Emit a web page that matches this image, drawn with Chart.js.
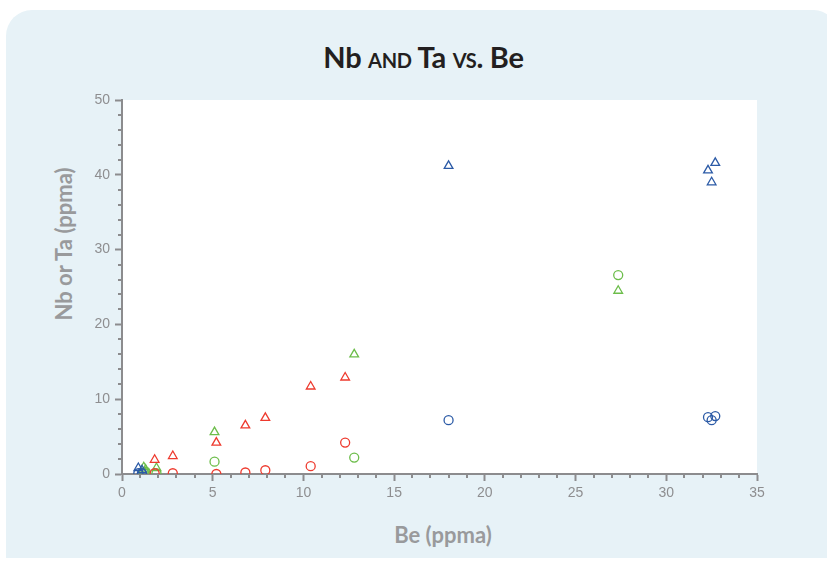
<!DOCTYPE html>
<html>
<head>
<meta charset="utf-8">
<script src="https://cdn.jsdelivr.net/npm/chart.js@4"></script>
<style>
  html, body { margin: 0; padding: 0; background: #fff; }
  #wrap { position: relative; width: 827px; height: 562px; overflow: hidden; }
  #panel {
    position: absolute; left: 6px; top: 10px; width: 830px; height: 548px;
    background: #e7f2f7; border-radius: 26px 22px 0 0;
  }
  #title {
    position: absolute; left: 0; top: 39px; width: 847px; text-align: center;
    font: bold 29px Lato, sans-serif; color: #231f20; letter-spacing: -0.3px;
  }
  #title .sc { font-variant: small-caps; }
  .axis-title { position: absolute; font: bold 22px Lato, sans-serif; color: #999a9c; white-space: nowrap; }
  #xtitle { left: 443px; top: 534px; transform: translate(-50%, -50%); }
  #ytitle { left: 63px; top: 244px; transform: translate(-50%, -50%) rotate(-90deg); }
  canvas { position: absolute; left: 0; top: 0; }
</style>
</head>
<body>
<div id="wrap">
  <div id="panel"></div>
  <div id="title">Nb <span class="sc">and</span> Ta <span class="sc">vs.</span> Be</div>
  <div class="axis-title" id="xtitle">Be (ppma)</div>
  <div class="axis-title" id="ytitle">Nb or Ta (ppma)</div>
  <canvas id="chart" width="827" height="562"></canvas>
</div>
<script>
// Be (ppma) with Nb (triangles) and Ta (circles), per sample group
const blueBe = [0.9, 1.1, 18.0, 32.3, 32.5, 32.7];
const blueNb = [0.8, 0.5, 41.2, 40.6, 39.0, 41.6];
const blueTa = [0.1, 0.1, 7.2, 7.6, 7.2, 7.75];

const redBe = [1.8, 2.8, 5.2, 6.8, 7.9, 10.4, 12.3];
const redNb = [1.9, 2.4, 4.2, 6.5, 7.5, 11.7, 12.9];
const redTa = [0.1, 0.1, 0.0, 0.2, 0.5, 1.05, 4.2];

const greenBe = [1.2, 1.3, 1.9, 5.1, 12.8, 27.35];
const greenNb = [0.9, 0.6, 0.8, 5.6, 16.0, 24.5];
const greenTa = [0.2, 0.3, 0.1, 1.65, 2.2, 26.6];

const xTicks = [0, 5, 10, 15, 20, 25, 30, 35];
const yTicks = [0, 10, 20, 30, 40, 50];

const axisColor = '#8c8c8e';

function pts(xs, ys) {
    return xs.map(function(x, i) { return { x: x, y: ys[i] }; });
}

function series(label, xs, ys, color, shape) {
    return {
        label: label,
        data: pts(xs, ys),
        pointStyle: shape,
        pointRadius: shape === 'triangle' ? 5 : 4.5,
        pointHoverRadius: shape === 'triangle' ? 5 : 4.5,
        borderColor: color,
        backgroundColor: 'rgba(0,0,0,0)',
        pointBorderWidth: 1.3,
        showLine: false
    };
}

// white plot area + minor ticks
const plotDecor = {
    id: 'plotDecor',
    beforeDraw: function(chart) {
        const a = chart.chartArea, ctx = chart.ctx;
        ctx.save();
        ctx.fillStyle = '#ffffff';
        ctx.fillRect(a.left, a.top, a.right - a.left, a.bottom - a.top);
        ctx.restore();
    },
    afterDraw: function(chart) {
        const ctx = chart.ctx, x = chart.scales.x, y = chart.scales.y;
        const a = chart.chartArea;
        ctx.save();
        ctx.strokeStyle = axisColor;
        ctx.lineWidth = 2;
        ctx.beginPath();
        for (let v = 1; v < 35; v++) {
            if (v % 5 === 0) continue;
            const px = Math.round(x.getPixelForValue(v));
            ctx.moveTo(px, a.bottom);
            ctx.lineTo(px, a.bottom + 4);
        }
        for (let v = 2; v < 50; v += 2) {
            if (v % 10 === 0) continue;
            const py = Math.round(y.getPixelForValue(v));
            ctx.moveTo(a.left - 4, py);
            ctx.lineTo(a.left, py);
        }
        ctx.stroke();
        ctx.restore();
    }
};

new Chart(document.getElementById('chart').getContext('2d'), {
    type: 'scatter',
    data: {
        datasets: [
            series('Nb (blue)', blueBe, blueNb, '#2b5aa6', 'triangle'),
            series('Ta (blue)', blueBe, blueTa, '#2b5aa6', 'circle'),
            series('Nb (red)', redBe, redNb, '#ee3a2e', 'triangle'),
            series('Ta (red)', redBe, redTa, '#ee3a2e', 'circle'),
            series('Nb (green)', greenBe, greenNb, '#6cbd4a', 'triangle'),
            series('Ta (green)', greenBe, greenTa, '#6cbd4a', 'circle')
        ]
    },
    options: {
        responsive: false,
        animation: false,
        layout: { padding: { top: 100, right: 70, bottom: 0, left: 0 } },
        plugins: {
            legend: { display: false },
            tooltip: { enabled: false }
        },
        scales: {
            x: {
                type: 'linear',
                min: 0,
                max: 35,
                afterBuildTicks: function(scale) {
                    scale.ticks = xTicks.map(function(v) { return { value: v }; });
                },
                afterFit: function(scale) { scale.height = 88; },
                ticks: {
                    color: '#8e8e90',
                    font: { family: 'Liberation Sans, Arial, sans-serif', size: 14 },
                    padding: 4,
                    maxRotation: 0
                },
                grid: { drawOnChartArea: false, tickLength: 7, tickColor: axisColor, tickWidth: 2 },
                border: { color: axisColor, width: 2 }
            },
            y: {
                type: 'linear',
                min: 0,
                max: 50,
                afterBuildTicks: function(scale) {
                    scale.ticks = yTicks.map(function(v) { return { value: v }; });
                },
                afterFit: function(scale) { scale.width = 122; },
                ticks: {
                    color: '#8e8e90',
                    font: { family: 'Liberation Sans, Arial, sans-serif', size: 14 },
                    padding: 5
                },
                grid: { drawOnChartArea: false, tickLength: 7, tickColor: axisColor, tickWidth: 2 },
                border: { color: axisColor, width: 2 }
            }
        }
    },
    plugins: [plotDecor]
});
</script>
</body>
</html>
